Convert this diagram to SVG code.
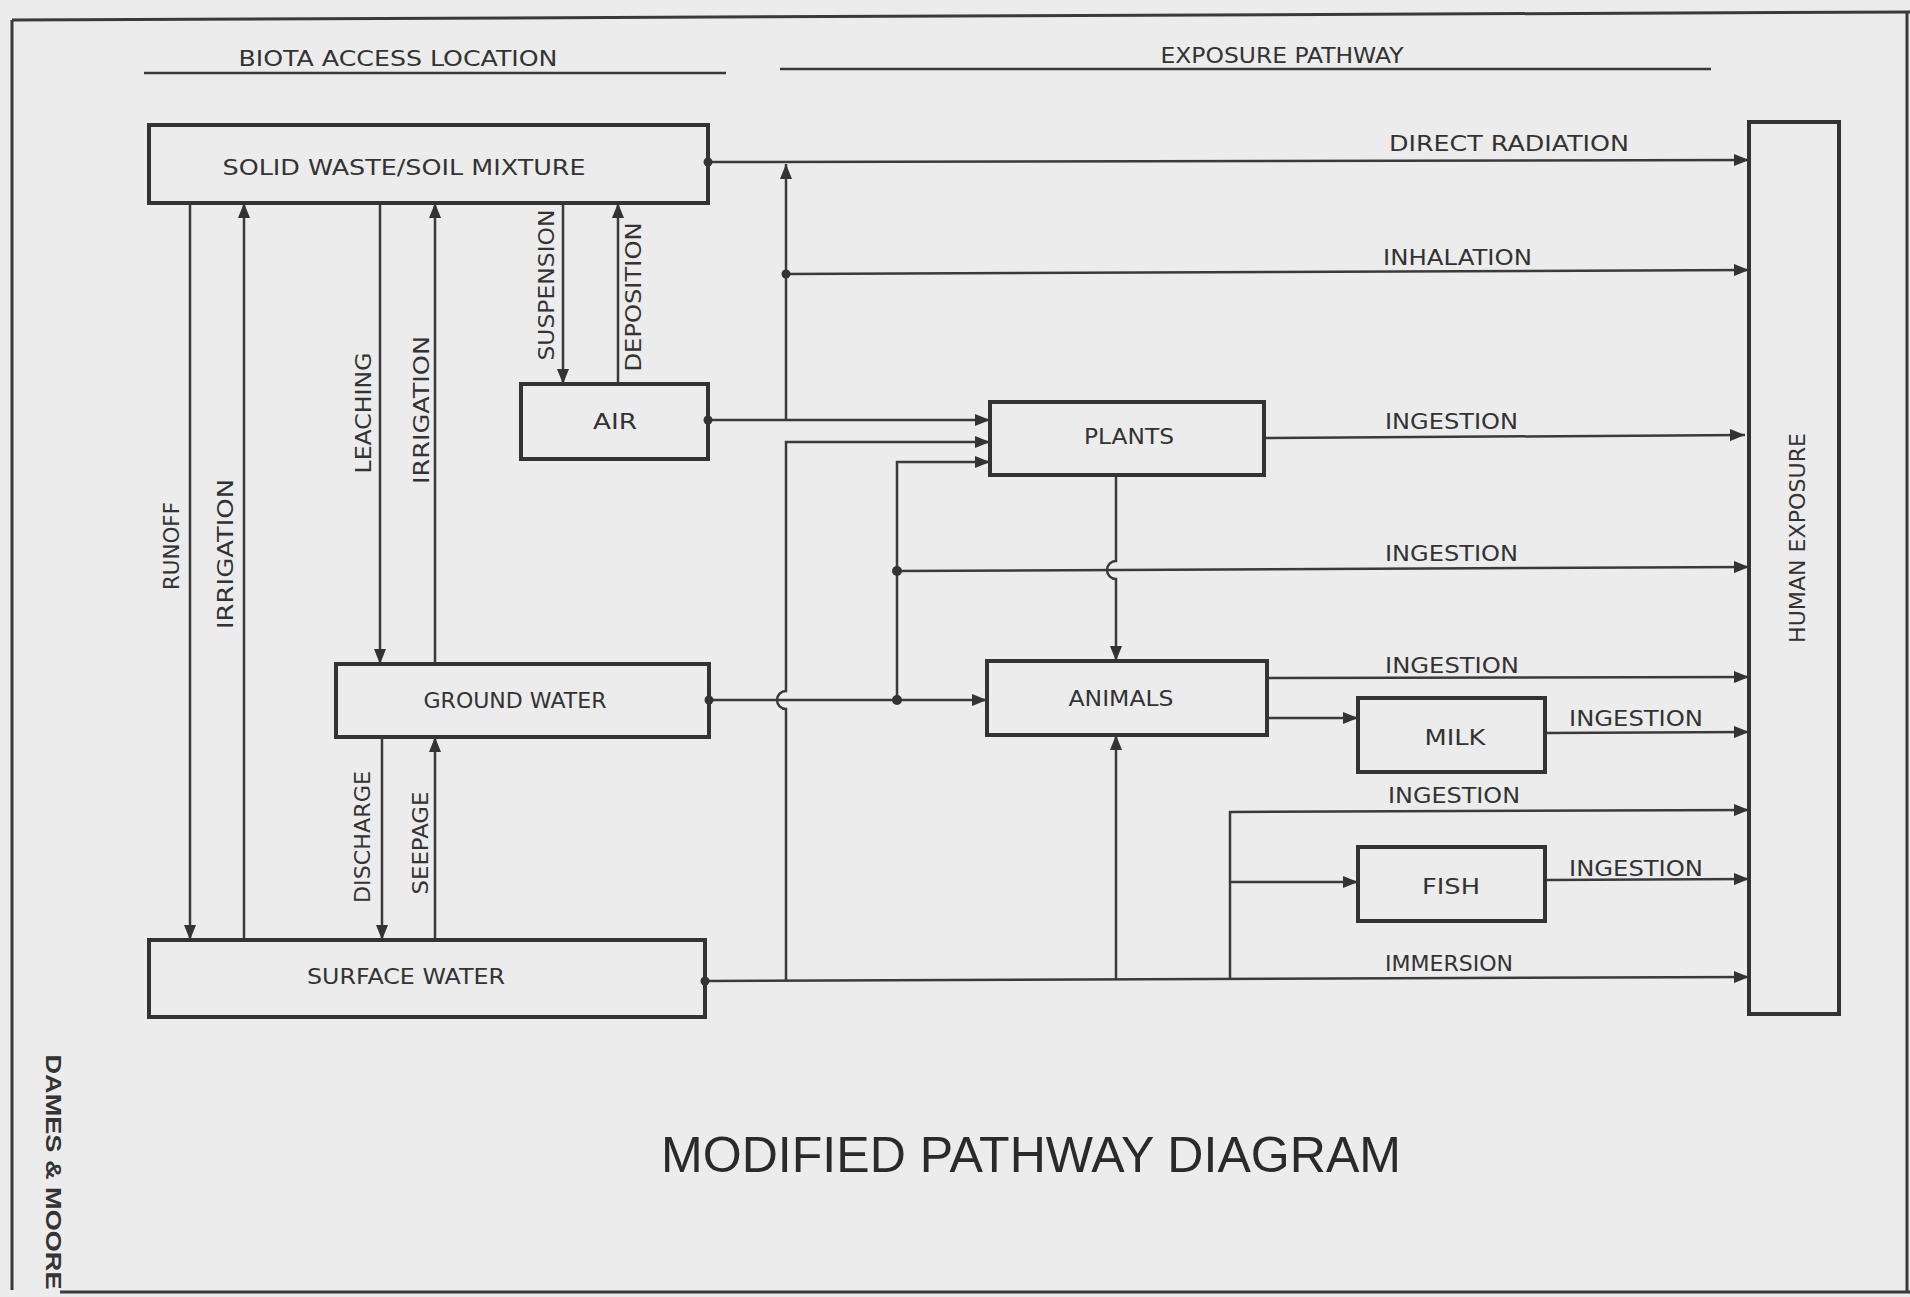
<svg xmlns="http://www.w3.org/2000/svg" width="1910" height="1297" viewBox="0 0 1910 1297">
<defs>
<style>
.bg{fill:#ececec}
.frame{stroke:#3a3a3a;stroke-width:3;fill:none}
.box{fill:none;stroke:#333;stroke-width:4}
.ln{fill:none;stroke:#3a3a3a;stroke-width:2.5}
.arr{marker-end:url(#ah)}
.dot{fill:#333}
.t{font-family:"DejaVu Sans","Liberation Sans",sans-serif;font-size:22px;fill:#333}
.c{text-anchor:middle;dominant-baseline:central}
.title{font-family:"Liberation Sans",Arial,sans-serif;font-size:50px;fill:#2a2a2a}
.dm{font-family:"Liberation Sans",Arial,sans-serif;font-weight:bold;font-size:22px;fill:#333}
</style>
<marker id="ah" markerUnits="userSpaceOnUse" markerWidth="16" markerHeight="12" refX="15" refY="6" orient="auto">
<path d="M0,0 L15,6 L0,12 z" fill="#333"/>
</marker>
</defs>
<rect class="bg" x="0" y="0" width="1910" height="1297"/>

<g id="frame">
<path class="frame" d="M12,20 L1910,12"/>
<path class="frame" d="M12,20 L12,1290"/>
<path class="frame" d="M1907,12 L1907,1292"/>
<path class="frame" d="M60,1292 L1910,1292" stroke-width="2"/>
<path class="ln" d="M144,73 L726,73" stroke-width="3"/>
<path class="ln" d="M780,69 L1711,69" stroke-width="3"/>
<text class="t" x="398" y="66" text-anchor="middle" textLength="319" lengthAdjust="spacingAndGlyphs">BIOTA ACCESS LOCATION</text>
<text class="t" x="1282" y="63" text-anchor="middle" textLength="243" lengthAdjust="spacingAndGlyphs">EXPOSURE PATHWAY</text>
</g>

<g id="connectors">
<!-- left verticals -->
<path class="ln arr" d="M190,203 L190,940"/>
<path class="ln arr" d="M244,940 L244,203"/>
<path class="ln arr" d="M380,203 L380,664"/>
<path class="ln arr" d="M435,664 L435,203"/>
<path class="ln arr" d="M563,203 L563,384"/>
<path class="ln arr" d="M618,384 L618,203"/>
<path class="ln arr" d="M382,737 L382,940"/>
<path class="ln arr" d="M435,940 L435,737"/>
<!-- exposure pathways -->
<path class="ln arr" d="M708,162 L1749,160"/>
<path class="ln arr" d="M786,420 L786,164"/>
<path class="ln arr" d="M786,274 L1749,270"/>
<path class="ln arr" d="M708,420 L990,420"/>
<path class="ln arr" d="M786,981 L786,709 A9,9 0 0,1 786,691 L786,442 L990,442"/>
<path class="ln arr" d="M897,700 L897,462 L990,462"/>
<path class="ln arr" d="M897,571 L1749,567"/>
<path class="ln arr" d="M709,700 L987,700"/>
<path class="ln arr" d="M1264,438 L1745,435"/>
<path class="ln arr" d="M1116,475 L1116,561 A9,9 0 0,0 1116,579 L1116,661"/>
<path class="ln arr" d="M1267,678 L1749,677"/>
<path class="ln arr" d="M1267,718 L1358,718"/>
<path class="ln arr" d="M1545,733 L1749,732"/>
<path class="ln arr" d="M1545,880 L1749,879"/>
<path class="ln arr" d="M705,981 L1749,977"/>
<path class="ln arr" d="M1116,980 L1116,735"/>
<path class="ln arr" d="M1230,980 L1230,812 L1749,810"/>
<path class="ln arr" d="M1230,882 L1358,882"/>
<circle class="dot" cx="708" cy="162" r="4.5"/>
<circle class="dot" cx="708" cy="420" r="4.5"/>
<circle class="dot" cx="709" cy="700" r="4.5"/>
<circle class="dot" cx="705" cy="981" r="4.5"/>
<circle class="dot" cx="786" cy="274" r="4.5"/>
<circle class="dot" cx="897" cy="571" r="5"/>
<circle class="dot" cx="897" cy="700" r="5"/>
<!-- vertical labels -->
<text class="t c" transform="translate(171,546) rotate(-90)" textLength="88" lengthAdjust="spacingAndGlyphs">RUNOFF</text>
<text class="t c" transform="translate(225,554) rotate(-90)" textLength="150" lengthAdjust="spacingAndGlyphs">IRRIGATION</text>
<text class="t c" transform="translate(363,413) rotate(-90)" textLength="121" lengthAdjust="spacingAndGlyphs">LEACHING</text>
<text class="t c" transform="translate(421,410) rotate(-90)" textLength="148" lengthAdjust="spacingAndGlyphs">IRRIGATION</text>
<text class="t c" transform="translate(546,285) rotate(-90)" textLength="151" lengthAdjust="spacingAndGlyphs">SUSPENSION</text>
<text class="t c" transform="translate(633,297) rotate(-90)" textLength="149" lengthAdjust="spacingAndGlyphs">DEPOSITION</text>
<text class="t c" transform="translate(362,837) rotate(-90)" textLength="132" lengthAdjust="spacingAndGlyphs">DISCHARGE</text>
<text class="t c" transform="translate(420,843) rotate(-90)" textLength="103" lengthAdjust="spacingAndGlyphs">SEEPAGE</text>
<!-- horizontal labels -->
<text class="t" x="1389" y="151" textLength="240" lengthAdjust="spacingAndGlyphs">DIRECT RADIATION</text>
<text class="t" x="1383" y="265" textLength="149" lengthAdjust="spacingAndGlyphs">INHALATION</text>
<text class="t" x="1385" y="429" textLength="133" lengthAdjust="spacingAndGlyphs">INGESTION</text>
<text class="t" x="1385" y="561" textLength="133" lengthAdjust="spacingAndGlyphs">INGESTION</text>
<text class="t" x="1385" y="673" textLength="134" lengthAdjust="spacingAndGlyphs">INGESTION</text>
<text class="t" x="1569" y="726" textLength="134" lengthAdjust="spacingAndGlyphs">INGESTION</text>
<text class="t" x="1388" y="803" textLength="132" lengthAdjust="spacingAndGlyphs">INGESTION</text>
<text class="t" x="1569" y="876" textLength="134" lengthAdjust="spacingAndGlyphs">INGESTION</text>
<text class="t" x="1385" y="971" textLength="128" lengthAdjust="spacingAndGlyphs">IMMERSION</text>
</g>

<g id="solid-waste">
<rect class="box" x="149" y="125" width="559" height="78"/>
<text class="t c" x="404" y="167" textLength="363" lengthAdjust="spacingAndGlyphs">SOLID WASTE/SOIL MIXTURE</text>
</g>
<g id="air">
<rect class="box" x="521" y="384" width="187" height="75"/>
<text class="t c" x="615" y="421" textLength="44" lengthAdjust="spacingAndGlyphs">AIR</text>
</g>
<g id="ground-water">
<rect class="box" x="336" y="664" width="373" height="73"/>
<text class="t c" x="515" y="700" textLength="183" lengthAdjust="spacingAndGlyphs">GROUND WATER</text>
</g>
<g id="surface-water">
<rect class="box" x="149" y="940" width="556" height="77"/>
<text class="t c" x="406" y="976" textLength="198" lengthAdjust="spacingAndGlyphs">SURFACE WATER</text>
</g>
<g id="plants">
<rect class="box" x="990" y="402" width="274" height="73"/>
<text class="t c" x="1129" y="436" textLength="90" lengthAdjust="spacingAndGlyphs">PLANTS</text>
</g>
<g id="animals">
<rect class="box" x="987" y="661" width="280" height="74"/>
<text class="t c" x="1121" y="698" textLength="105" lengthAdjust="spacingAndGlyphs">ANIMALS</text>
</g>
<g id="milk">
<rect class="box" x="1358" y="698" width="187" height="74"/>
<text class="t c" x="1455" y="737" textLength="61" lengthAdjust="spacingAndGlyphs">MILK</text>
</g>
<g id="fish">
<rect class="box" x="1358" y="847" width="187" height="74"/>
<text class="t c" x="1451" y="886" textLength="58" lengthAdjust="spacingAndGlyphs">FISH</text>
</g>
<g id="human-exposure">
<rect class="box" x="1749" y="122" width="90" height="892"/>
<text class="t c" transform="translate(1797,538) rotate(-90)" textLength="210" lengthAdjust="spacingAndGlyphs">HUMAN EXPOSURE</text>
</g>

<g id="title">
<text class="title" x="1031" y="1172" text-anchor="middle" textLength="740" lengthAdjust="spacingAndGlyphs">MODIFIED PATHWAY DIAGRAM</text>
<text class="dm c" transform="translate(53,1172) rotate(90)" textLength="235" lengthAdjust="spacingAndGlyphs">DAMES &amp; MOORE</text>
</g>
</svg>
